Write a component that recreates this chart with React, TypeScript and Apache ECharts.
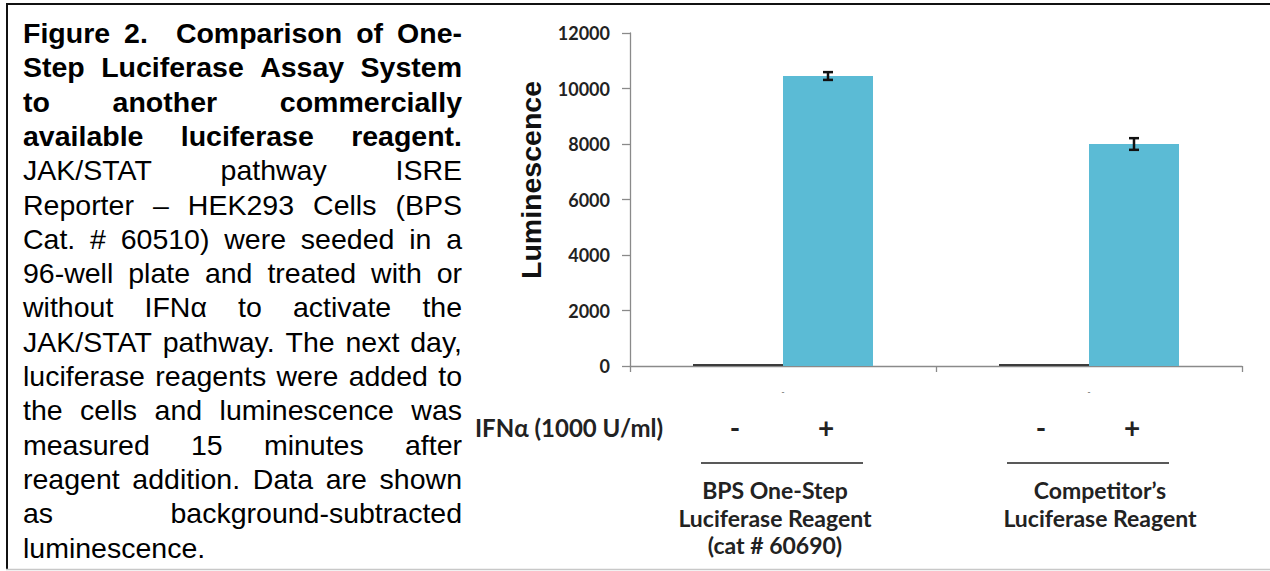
import React, { useEffect, useRef } from 'react';
import * as echarts from 'echarts';

// ---------- data ----------
const categories = ['BPS One-Step Luciferase Reagent (cat # 60690)', "Competitor's Luciferase Reagent"];
const seriesNames = ['IFNα -', 'IFNα +'];
const withoutIFN = [70, 70];
const withIFN = [10450, 8000];
const withIFNErr = [140, 210];
const yMin = 0;
const yMax = 12000;
const yInterval = 2000;
const categoryTickLabel = '-';
const treatmentLabel = 'IFNα (1000 U/ml)';
const signs = ['-', '+'];
const groupLabels = [
  ['BPS One-Step', 'Luciferase Reagent', '(cat # 60690)'],
  ['Competitor’s', 'Luciferase Reagent'],
];
const yAxisTitle = 'Luminescence';
const captionBold = [
  'Figure 2.  Comparison of One-',
  'Step Luciferase Assay System',
  'to another commercially',
  'available luciferase reagent.',
];
const captionRegular = [
  'JAK/STAT pathway ISRE',
  'Reporter – HEK293 Cells (BPS',
  'Cat. # 60510) were seeded in a',
  '96-well plate and treated with or',
  'without IFNα to activate the',
  'JAK/STAT pathway. The next day,',
  'luciferase reagents were added to',
  'the cells and luminescence was',
  'measured 15 minutes after',
  'reagent addition. Data are shown',
  'as background-subtracted',
  'luminescence.',
];

// ---------- layout constants ----------
const BAR_W = 90;
const CAP_FONT = "28.5px 'Liberation Sans', Arial, sans-serif";
const CAP_FONT_BOLD = "bold 28.5px 'Liberation Sans', Arial, sans-serif";
const CAP_LEFT = 23;
const CAP_RIGHT = 462;
const CAP_Y0 = 33;
const CAP_PITCH = 34.3;

function captionElements(): any[] {
  const canvas = document.createElement('canvas');
  const ctx = canvas.getContext('2d')!;
  const lines = [
    ...captionBold.map((t) => ({ t, font: CAP_FONT_BOLD })),
    ...captionRegular.map((t) => ({ t, font: CAP_FONT })),
  ];
  const els: any[] = [];
  lines.forEach((ln, li) => {
    const y = CAP_Y0 + li * CAP_PITCH;
    const justify = li < lines.length - 1;
    ctx.font = ln.font;
    if (!justify) {
      els.push({
        type: 'text',
        style: { text: ln.t, x: CAP_LEFT, y, font: ln.font, fill: '#000', textAlign: 'left', textVerticalAlign: 'middle' },
      });
      return;
    }
    const tokens = ln.t.split(' ');
    const natural = ctx.measureText(ln.t).width;
    const gaps = tokens.length - 1;
    const extra = gaps > 0 ? (CAP_RIGHT - CAP_LEFT - natural) / gaps : 0;
    let prefix = '';
    tokens.forEach((tok, i) => {
      const x = CAP_LEFT + ctx.measureText(prefix).width + extra * i;
      if (tok) {
        els.push({
          type: 'text',
          style: { text: tok, x, y, font: ln.font, fill: '#000', textAlign: 'left', textVerticalAlign: 'middle' },
        });
      }
      prefix += tok + ' ';
    });
  });
  return els;
}

export default function App() {
  const ref = useRef<HTMLDivElement>(null);
  useEffect(() => {
    if (!ref.current) return;
    const chart = echarts.init(ref.current, undefined, { renderer: 'svg' });
    const labelFont = { fontFamily: 'Lato, sans-serif', fontWeight: 'bold' as const };

    const graphics: any[] = [
      // frame
      { type: 'line', shape: { x1: 6, y1: 4, x2: 1270, y2: 4 }, style: { stroke: '#111', lineWidth: 2 } },
      { type: 'line', shape: { x1: 7, y1: 3, x2: 7, y2: 570 }, style: { stroke: '#111', lineWidth: 2 } },
      { type: 'line', shape: { x1: 6, y1: 569.5, x2: 1270, y2: 569.5 }, style: { stroke: '#c8c8c8', lineWidth: 1.5 } },
      ...captionElements(),
      // y axis title
      {
        type: 'text',
        x: 531,
        y: 180,
        rotation: Math.PI / 2,
        style: {
          text: yAxisTitle,
          font: "bold 28.5px 'Liberation Sans', Arial, sans-serif",
          fill: '#111',
          textAlign: 'center',
          textVerticalAlign: 'middle',
        },
      },
      // treatment row
      {
        type: 'text',
        style: {
          text: treatmentLabel,
          x: 475,
          y: 427,
          font: "bold 24px Lato, sans-serif",
          fill: '#222',
          textAlign: 'left',
          textVerticalAlign: 'middle',
        },
      },
    ];

    const groupCenters = [783, 1089];
    const signOffsets = [-48, 43];
    groupCenters.forEach((cx, gi) => {
      signs.forEach((s, si) => {
        graphics.push({
          type: 'text',
          style: {
            text: s,
            x: cx + signOffsets[si],
            y: 427,
            font: "bold 28px Lato, sans-serif",
            fill: '#222',
            textAlign: 'center',
            textVerticalAlign: 'middle',
          },
        });
      });
      graphics.push({
        type: 'line',
        shape: { x1: cx - 82, y1: 463, x2: cx + 80, y2: 463 },
        style: { stroke: '#222', lineWidth: 1.5 },
      });
      groupLabels[gi].forEach((t, li) => {
        graphics.push({
          type: 'text',
          style: {
            text: t,
            x: cx - 8 + (gi === 1 ? 19 : 0),
            y: 490 + li * 27.5,
            font: "bold 23px Lato, sans-serif",
            fill: '#222',
            textAlign: 'center',
            textVerticalAlign: 'middle',
          },
        });
      });
    });

    chart.setOption({
      animation: false,
      backgroundColor: '#fff',
      grid: { left: 630, right: 28, top: 33, bottom: 205, containLabel: false },
      xAxis: {
        type: 'category',
        data: categories,
        axisLine: { lineStyle: { color: '#8a8a8a', width: 1.3 } },
        axisTick: { show: true, length: 6, lineStyle: { color: '#8a8a8a', width: 1.3 } },
        axisLabel: { formatter: () => categoryTickLabel, fontSize: 9, color: '#666', margin: 21 },
      },
      yAxis: {
        type: 'value',
        min: yMin,
        max: yMax,
        interval: yInterval,
        axisLine: { show: true, lineStyle: { color: '#8a8a8a', width: 1.3 } },
        axisTick: { show: true, length: 8, lineStyle: { color: '#8a8a8a', width: 1.3 } },
        splitLine: { show: false },
        axisLabel: { ...labelFont, fontSize: 18, color: '#222', margin: 20, formatter: (v: number) => String(v) },
      },
      series: [
        {
          name: seriesNames[0],
          type: 'bar',
          data: withoutIFN,
          barWidth: BAR_W,
          barGap: '0%',
          itemStyle: { color: '#3c3c3c' },
        },
        {
          name: seriesNames[1],
          type: 'bar',
          data: withIFN,
          barWidth: BAR_W,
          barGap: '0%',
          itemStyle: { color: '#5bbbd5' },
        },
        {
          type: 'custom',
          data: withIFN.map((v, i) => [i, v, withIFNErr[i]]),
          encode: { x: 0, y: 1 },
          z: 10,
          renderItem: (_params: any, api: any) => {
            const i = api.value(0);
            const v = api.value(1);
            const e = api.value(2);
            const top = api.coord([i, v + e]);
            const bot = api.coord([i, v - e]);
            const x = top[0] + BAR_W / 2;
            const cap = 5;
            const st = { stroke: '#111', lineWidth: 2.5 };
            return {
              type: 'group',
              children: [
                { type: 'line', shape: { x1: x, y1: top[1], x2: x, y2: bot[1] }, style: st },
                { type: 'line', shape: { x1: x - cap, y1: top[1], x2: x + cap, y2: top[1] }, style: st },
                { type: 'line', shape: { x1: x - cap, y1: bot[1], x2: x + cap, y2: bot[1] }, style: st },
              ],
            };
          },
        },
      ],
      graphic: graphics,
    });
    return () => chart.dispose();
  }, []);
  return <div ref={ref} style={{ position: 'absolute', left: 0, top: 0, width: 1270, height: 571 }} />;
}
